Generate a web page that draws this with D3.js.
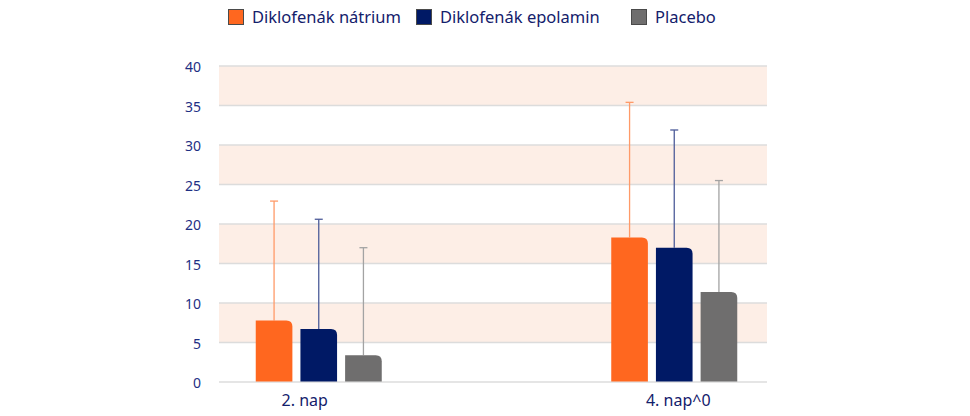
<!DOCTYPE html>
<html>
<head>
<meta charset="utf-8">
<style>
  body { margin: 0; background: #fff; }
  text { font-family: "Noto Sans", "Open Sans", sans-serif; }
</style>
</head>
<body>
<div id="chart"></div>
<script src="https://d3js.org/d3.v7.min.js"></script>
<script>
// data
var categories = ["2. nap", "4. nap^0"];
var seriesNames = ["Diklofenák nátrium", "Diklofenák epolamin", "Placebo"];
var natriumMean = [7.8, 18.3];
var epolaminMean = [6.7, 17.0];
var placeboMean = [3.4, 11.4];
var natriumUpper = [22.9, 35.4];
var epolaminUpper = [20.6, 31.9];
var placeboUpper = [17.0, 25.5];
var yTicks = [0, 5, 10, 15, 20, 25, 30, 35, 40];

var colors = ["#ff671f", "#001965", "#6f6e6e"];
var errColors = ["#ff9a68", "#4d5c99", "#a3a3a3"];
var textColor = "#1e2f84";

var W = 970, H = 416;
var plot = { left: 219, right: 767, top: 66, bottom: 382 };

var svg = d3.select("#chart").append("svg")
  .attr("width", W)
  .attr("height", H);

// scales
var y = d3.scaleLinear().domain([0, 40]).range([plot.bottom, plot.top]);
var x0 = d3.scaleBand().domain(categories).range([141, 852]);
var x1 = d3.scaleBand().domain(seriesNames).range([-63, 63]).paddingInner(0.18);

// shaded bands
var bands = d3.range(0, 40, 10);
svg.append("g").selectAll("rect")
  .data(bands)
  .enter().append("rect")
  .attr("x", plot.left)
  .attr("width", plot.right - plot.left)
  .attr("y", function(d) { return y(d + 10); })
  .attr("height", function(d) { return y(d + 5) - y(d + 10); })
  .style("fill", "#fdeee6");

// grid lines
svg.append("g").selectAll("line")
  .data(yTicks)
  .enter().append("line")
  .attr("x1", plot.left)
  .attr("x2", plot.right)
  .attr("y1", function(d) { return y(d); })
  .attr("y2", function(d) { return y(d); })
  .style("stroke", "#dcdcdc")
  .style("stroke-width", 1.5);

// y tick labels
svg.append("g").selectAll("text")
  .data(yTicks)
  .enter().append("text")
  .attr("x", 201)
  .attr("y", function(d) { return y(d) + 6; })
  .attr("text-anchor", "end")
  .style("font-size", "14px")
  .style("fill", textColor)
  .text(function(d) { return d; });

// build rows
var means = [natriumMean, epolaminMean, placeboMean];
var uppers = [natriumUpper, epolaminUpper, placeboUpper];
var rows = [];
categories.forEach(function(c, ci) {
  seriesNames.forEach(function(s, si) {
    rows.push({ cat: c, ser: s, si: si, mean: means[si][ci], upper: uppers[si][ci] });
  });
});

function barX(d) { return x0(d.cat) + x0.bandwidth() / 2 + x1(d.ser); }

// error bars (behind the bars)
var err = svg.append("g").selectAll("g")
  .data(rows)
  .enter().append("g")
  .style("stroke", function(d) { return errColors[d.si]; })
  .style("stroke-width", 1.3);

err.append("line")
  .attr("x1", function(d) { return barX(d) + x1.bandwidth() / 2; })
  .attr("x2", function(d) { return barX(d) + x1.bandwidth() / 2; })
  .attr("y1", function(d) { return y(d.mean); })
  .attr("y2", function(d) { return y(d.upper); });

err.append("line")
  .attr("x1", function(d) { return barX(d) + x1.bandwidth() / 2 - 4; })
  .attr("x2", function(d) { return barX(d) + x1.bandwidth() / 2 + 4; })
  .attr("y1", function(d) { return y(d.upper); })
  .attr("y2", function(d) { return y(d.upper); });

// bars with a rounded top right corner
var r = 6;
svg.append("g").selectAll("path")
  .data(rows)
  .enter().append("path")
  .attr("d", function(d) {
    var x = barX(d), w = x1.bandwidth(), top = y(d.mean), b = y(0) - 0.5;
    return "M" + x + "," + b + "V" + top + "H" + (x + w - r) +
      "Q" + (x + w) + "," + top + " " + (x + w) + "," + (top + r) +
      "V" + b + "Z";
  })
  .style("fill", function(d) { return colors[d.si]; });

// category labels
var labelNudge = [-14, 4];
svg.append("g").selectAll("text")
  .data(categories)
  .enter().append("text")
  .attr("x", function(d, i) { return x0(d) + x0.bandwidth() / 2 + labelNudge[i]; })
  .attr("y", 406)
  .attr("text-anchor", "middle")
  .style("font-size", "16px")
  .style("fill", "#13206b")
  .text(function(d) { return d; });

// legend
var legendX = [228, 416, 631];
var legend = svg.append("g").selectAll("g")
  .data(seriesNames)
  .enter().append("g")
  .attr("transform", function(d, i) { return "translate(" + legendX[i] + ",9)"; });

legend.append("rect")
  .attr("x", 0.5)
  .attr("y", 0.5)
  .attr("width", 15)
  .attr("height", 15)
  .style("fill", function(d, i) { return colors[i]; })
  .style("stroke", "#4a4a4a")
  .style("stroke-width", 1);

legend.append("text")
  .attr("x", 24)
  .attr("y", 14)
  .style("font-size", "16.5px")
  .style("fill", "#13206b")
  .text(function(d) { return d; });
</script>
</body>
</html>
